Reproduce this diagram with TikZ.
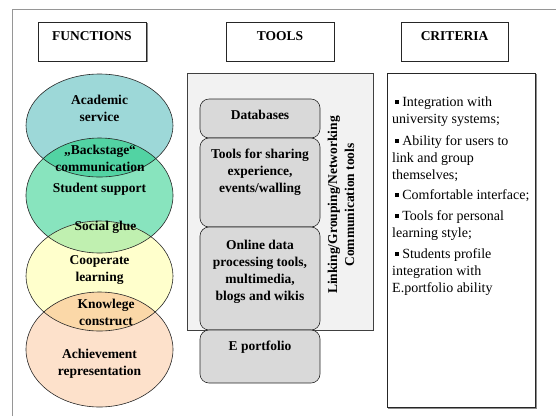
\documentclass[tikz,border=0pt]{standalone}
\usepackage{fontspec}
\setmainfont{Liberation Serif}
\definecolor{cteal}{RGB}{157,216,216}
\definecolor{cov1}{RGB}{82,211,163}
\definecolor{cgreen}{RGB}{136,228,190}
\definecolor{cov2}{RGB}{192,240,176}
\definecolor{cyel}{RGB}{255,255,204}
\definecolor{cov3}{RGB}{251,216,168}
\definecolor{corange}{RGB}{253,225,203}
\definecolor{boxgray}{RGB}{217,217,217}
\definecolor{panelgray}{RGB}{242,242,242}
\definecolor{framegray}{RGB}{150,150,150}
\newcommand\sqb{\rule[2.2pt]{3.6pt}{3.6pt}}
\begin{document}
\begin{tikzpicture}[x=1pt,y=-1pt,
  hdr/.style={draw=black!85, line width=0.7pt},
  shadowline/.style={draw=black!45, line width=1pt},
  bt/.style={font=\fontsize{13.5}{17}\selectfont\bfseries, align=center, inner sep=0pt, anchor=base},
  ct/.style={font=\fontsize{14}{17}\selectfont, align=left, inner sep=0pt, anchor=base west},
  tbox/.style={draw=black!85, fill=boxgray, rounded corners=9pt, line width=0.6pt},
  eline/.style={draw=black!85, line width=0.6pt},
]
\useasboundingbox (0,0) rectangle (556,416);
% frame
\draw[framegray, line width=0.8pt] (12,416) -- (12,9) -- (556,9);

% headers
\draw[shadowline] (147.5,23) -- (147.5,61.5) -- (39,61.5);
\draw[hdr] (38,22) rectangle (146,61);
\node[bt] (hf) at (92,40) {FUNCTIONS};
\draw[shadowline] (334.5,23) -- (334.5,61.5) -- (226,61.5);
\draw[hdr] (226,22) rectangle (334,61);
\node[bt] (ht) at (280,40) {TOOLS};
\draw[shadowline] (508.5,23) -- (508.5,61.5) -- (401,61.5);
\draw[hdr] (401,22) rectangle (508,61);
\node[bt] (hc) at (454.5,40) {CRITERIA};

% ellipses
\fill[cteal] (99.5,125.5) ellipse (73.5pt and 51.5pt);
\fill[cgreen] (99.5,195.5) ellipse (73.5pt and 57.5pt);
\fill[cyel] (99.5,276) ellipse (73.5pt and 55pt);
\fill[corange] (99.5,349.5) ellipse (73.5pt and 57.5pt);
\begin{scope}
  \clip (99.5,125.5) ellipse (73.5pt and 51.5pt);
  \fill[cov1] (99.5,195.5) ellipse (73.5pt and 57.5pt);
\end{scope}
\begin{scope}
  \clip (99.5,195.5) ellipse (73.5pt and 57.5pt);
  \fill[cov2] (99.5,276) ellipse (73.5pt and 55pt);
\end{scope}
\begin{scope}
  \clip (99.5,276) ellipse (73.5pt and 55pt);
  \fill[cov3] (99.5,349.5) ellipse (73.5pt and 57.5pt);
\end{scope}
\draw[eline] (99.5,125.5) ellipse (73.5pt and 51.5pt);
\draw[eline] (99.5,195.5) ellipse (73.5pt and 57.5pt);
\draw[eline] (99.5,276) ellipse (73.5pt and 55pt);
\draw[eline] (99.5,349.5) ellipse (73.5pt and 57.5pt);

\node[bt] (fa) at (99.5,121) {Academic\\service};
\node[bt] (fb) at (100,171) {„Backstage“\\communication};
\node[bt] (fs) at (99.5,192) {Student support};
\node[bt] (fg) at (105.5,230) {Social glue};
\node[bt] (fc) at (99.5,281) {Cooperate\\learning};
\node[bt] (fk) at (106,325) {Knowlege\\construct};
\node[bt] (fr) at (99.5,375) {Achievement\\representation};

% tools panel
\draw[fill=panelgray, draw=black!75, line width=0.6pt] (187,73) rectangle (373,330);
\draw[tbox] (200,99) rectangle (320,138);
\draw[tbox] (200,138) rectangle (320,227);
\draw[tbox] (200,227) rectangle (320,330);
\draw[tbox] (200,330) rectangle (320,383);
\node[bt] (tdb) at (260,119) {Databases};
\node[bt] (tsh) at (260,192) {Tools for sharing\\experience,\\events/walling};
\node[bt] (tod) at (260,300) {Online data\\processing tools,\\multimedia,\\blogs and wikis};
\node[bt] (tep) at (260,350) {E portfolio};
\node[bt, anchor=center, rotate=90] (tlk) at (341,205) {Linking/Grouping/Networking\\Communication tools};

% criteria
\draw[shadowline] (536,74) -- (536,408) -- (388,408);
\draw[hdr] (387,73) rectangle (535,407);
\node[ct] (c1) at (392,123) {\kern3pt\sqb\ Integration with\\university systems;};
\node[ct] (c2) at (392,179) {\kern3pt\sqb\ Ability for users to\\link and group\\themselves;};
\node[ct] (c3) at (392,199) {\kern3pt\sqb\ Comfortable interface;};
\node[ct] (c4) at (392,237) {\kern3pt\sqb\ Tools for personal\\learning style;};
\node[ct] (c5) at (392,292) {\kern3pt\sqb\ Students profile\\integration with\\E.portfolio ability};
\end{tikzpicture}
\end{document}
